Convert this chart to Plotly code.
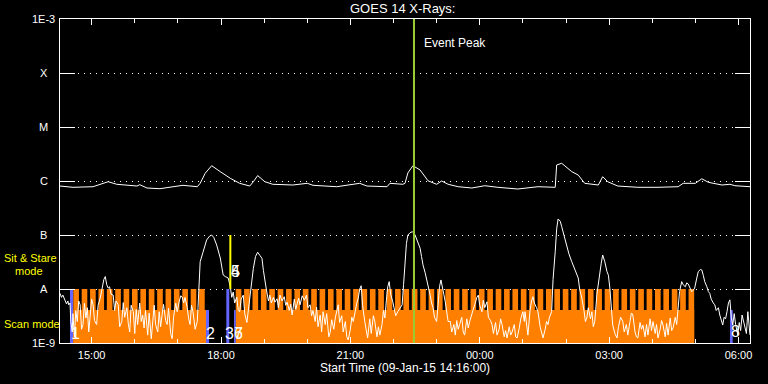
import datetime as dt
import math
import plotly.graph_objects as go

# ---------------- data ----------------
X_RANGE = ["2015-01-09 14:16:00", "2015-01-10 06:16:00"]

# GOES 1-8 A (long channel)
LONG_TIMES = ["14:16", "14:34", "15:02", "15:16", "15:23", "15:35", "16:03", "16:07", "16:17", "16:35",
              "16:59", "17:07", "17:27", "17:31", "17:38", "17:47", "17:59", "18:13", "18:26", "18:40",
              "18:45", "18:51", "19:01", "19:12", "19:40", "20:00", "20:08", "20:41", "21:13", "21:23",
              "21:51", "21:55", "22:13", "22:16", "22:20", "22:27", "22:37", "22:48", "23:00", "23:07",
              "23:16", "23:30", "23:49", "00:07", "00:25", "00:53", "01:21", "01:45", "01:47", "01:54",
              "02:08", "02:17", "02:26", "02:45", "02:51", "02:58", "03:12", "03:40", "04:08", "04:36",
              "04:43", "05:00", "05:09", "05:18", "05:37", "05:48", "05:55", "06:16"]
LONG_FLUX = [8.07e-7, 7.64e-7, 7.84e-7, 9.06e-7, 9.7e-7, 8.69e-7, 8.07e-7, 8.53e-7, 7.42e-7, 7.2e-7,
             7.84e-7, 8.32e-7, 7.84e-7, 9.06e-7, 1.39e-6, 1.92e-6, 1.49e-6, 1.12e-6, 9.06e-7, 8.07e-7,
             9.7e-7, 1.26e-6, 9.7e-7, 8.69e-7, 8.43e-7, 9.06e-7, 8.32e-7, 7.84e-7, 9.06e-7, 8.07e-7,
             7.84e-7, 9.06e-7, 8.69e-7, 9.06e-7, 1.41e-6, 1.92e-6, 1.6e-6, 1.01e-6, 8.69e-7, 1.0e-6,
             8.69e-7, 7.84e-7, 7.42e-7, 8.18e-7, 7.64e-7, 7.11e-7, 7.84e-7, 7.64e-7, 1.98e-6, 2.13e-6,
             1.49e-6, 1.29e-6, 9.06e-7, 8.43e-7, 1.2e-6, 9.7e-7, 8.07e-7, 7.64e-7, 7.64e-7, 7.84e-7,
             9.06e-7, 9.06e-7, 1.1e-6, 9.46e-7, 8.43e-7, 8.69e-7, 8.18e-7, 7.84e-7]

# GOES 0.5-4 A (short channel)
SHORT_TIMES = [
    "14:16", "14:18", "14:20", "14:23", "14:25", "14:27", "14:28", "14:30", "14:31", "14:33",
    "14:34", "14:36", "14:38", "14:40", "14:42", "14:44", "14:46", "14:48", "14:50", "14:52",
    "14:54", "14:56", "14:58", "15:00", "15:02", "15:04", "15:07", "15:09", "15:12", "15:15",
    "15:17", "15:19", "15:21", "15:23", "15:25", "15:27", "15:30", "15:32", "15:34", "15:37",
    "15:39", "15:42", "15:44", "15:46", "15:49", "15:51", "15:53", "15:55", "15:58", "16:00",
    "16:02", "16:04", "16:07", "16:09", "16:11", "16:13", "16:15", "16:18", "16:20", "16:23",
    "16:25", "16:27", "16:29", "16:32", "16:34", "16:36", "16:38", "16:40", "16:43", "16:45",
    "16:47", "16:50", "16:52", "16:54", "16:57", "16:59", "17:02", "17:04", "17:06", "17:08",
    "17:10", "17:13", "17:15", "17:17", "17:19", "17:21", "17:24", "17:27", "17:28", "17:31",
    "17:35", "17:40", "17:44", "17:47", "17:50", "17:54", "17:59", "18:03", "18:06", "18:10",
    "18:13", "18:15", "18:17", "18:19", "18:22", "18:24", "18:26", "18:28", "18:31", "18:33",
    "18:36", "18:38", "18:40", "18:42", "18:45", "18:48", "18:51", "18:54", "18:57", "18:59",
    "19:01", "19:03", "19:06", "19:08", "19:10", "19:13", "19:15", "19:18", "19:20", "19:22",
    "19:25", "19:28", "19:30", "19:32", "19:35", "19:37", "19:39", "19:42", "19:44", "19:46",
    "19:48", "19:50", "19:53", "19:56", "19:59", "20:01", "20:04", "20:06", "20:08", "20:11",
    "20:13", "20:15", "20:18", "20:20", "20:22", "20:25", "20:27", "20:30", "20:32", "20:34",
    "20:37", "20:39", "20:41", "20:43", "20:45", "20:48", "20:50", "20:53", "20:55", "20:57",
    "21:00", "21:02", "21:04", "21:07", "21:09", "21:11", "21:13", "21:15", "21:17", "21:20",
    "21:22", "21:24", "21:27", "21:29", "21:32", "21:34", "21:37", "21:39", "21:41", "21:44",
    "21:46", "21:48", "21:50", "21:52", "21:54", "21:56", "21:59", "22:01", "22:03", "22:06",
    "22:09", "22:12", "22:14", "22:16", "22:18", "22:20", "22:23", "22:26", "22:28", "22:30",
    "22:33", "22:37", "22:39", "22:41", "22:44", "22:47", "22:49", "22:51", "22:53", "22:55",
    "22:57", "23:00", "23:02", "23:04", "23:06", "23:08", "23:10", "23:12", "23:14", "23:16",
    "23:19", "23:21", "23:24", "23:26", "23:28", "23:30", "23:32", "23:35", "23:37", "23:39",
    "23:42", "23:44", "23:46", "23:49", "23:51", "23:53", "23:56", "23:58", "00:00", "00:03",
    "00:05", "00:07", "00:10", "00:12", "00:15", "00:17", "00:19", "00:22", "00:24", "00:27",
    "00:29", "00:31", "00:34", "00:36", "00:38", "00:41", "00:43", "00:45", "00:48", "00:50",
    "00:52", "00:55", "00:57", "01:00", "01:02", "01:03", "01:05", "01:07", "01:10", "01:12",
    "01:14", "01:16", "01:19", "01:21", "01:24", "01:26", "01:28", "01:31", "01:33", "01:35",
    "01:37", "01:40", "01:42", "01:45", "01:47", "01:49", "01:52", "01:54", "01:58", "02:01",
    "02:04", "02:08", "02:12", "02:17", "02:19", "02:22", "02:25", "02:27", "02:29", "02:31",
    "02:34", "02:36", "02:38", "02:40", "02:43", "02:45", "02:47", "02:49", "02:51", "02:54",
    "02:57", "02:59", "03:01", "03:03", "03:05", "03:08", "03:11", "03:13", "03:16", "03:19",
    "03:21", "03:24", "03:26", "03:29", "03:31", "03:33", "03:36", "03:38", "03:40", "03:43",
    "03:45", "03:47", "03:50", "03:52", "03:54", "03:57", "03:59", "04:01", "04:04", "04:06",
    "04:08", "04:11", "04:13", "04:15", "04:18", "04:20", "04:22", "04:25", "04:27", "04:29",
    "04:32", "04:34", "04:36", "04:38", "04:41", "04:43", "04:46", "04:48", "04:50", "04:53",
    "04:55", "04:57", "04:59", "05:02", "05:04", "05:07", "05:09", "05:11", "05:13", "05:16",
    "05:18", "05:20", "05:22", "05:25", "05:27", "05:29", "05:32", "05:34", "05:36", "05:38",
    "05:40", "05:42", "05:44", "05:46", "05:48", "05:50", "05:52", "05:54", "05:56", "05:59",
    "06:01", "06:03", "06:05", "06:07", "06:09", "06:11", "06:13", "06:15", "06:16"]
SHORT_FLUX = [
    8.3e-9, 7.0e-9, 7.7e-9, 6.3e-9, 5.3e-9, 6.0e-9, 5.1e-9, 5.5e-9, 2.5e-9, 1.6e-9,
    3.5e-9, 1.3e-9, 4.0e-9, 2.5e-9, 6.0e-9, 5.1e-9, 1.8e-9, 2.2e-9, 5.5e-9, 2.9e-9,
    4.5e-9, 1.6e-9, 3.3e-9, 6.5e-9, 5.1e-9, 2.6e-9, 2.2e-9, 5.0e-9, 6.8e-9, 1.1e-8,
    1.5e-8, 1.7e-8, 1.2e-8, 1.04e-8, 1.1e-8, 8.0e-9, 7.7e-9, 4.0e-9, 6.0e-9, 5.1e-9,
    2.0e-9, 2.5e-9, 5.6e-9, 3.0e-9, 4.5e-9, 2.3e-9, 1.6e-9, 5.0e-9, 3.8e-9, 1.5e-9,
    4.2e-9, 2.2e-9, 5.5e-9, 2.5e-9, 3.3e-9, 1.9e-9, 4.0e-9, 1.4e-9, 3.6e-9, 1.2e-9,
    2.9e-9, 5.0e-9, 2.2e-9, 1.6e-9, 3.8e-9, 2.0e-9, 3.3e-9, 5.2e-9, 2.6e-9, 2.2e-9,
    4.4e-9, 1.5e-9, 1.2e-9, 3.0e-9, 5.5e-9, 3.8e-9, 6.0e-9, 7.5e-9, 7.1e-9, 5.5e-9,
    7.0e-9, 4.5e-9, 2.8e-9, 2.2e-9, 5.0e-9, 3.8e-9, 1.8e-9, 2.5e-9, 4.5e-9, 3.2e-8,
    4.8e-8, 8.1e-8, 9.5e-8, 1.0e-7, 9.0e-8, 6.5e-8, 3.75e-8, 1.82e-8, 1.7e-8, 1.6e-8,
    1.09e-8, 7.0e-9, 8.8e-9, 5.5e-9, 7.1e-9, 4.0e-9, 3.8e-9, 6.5e-9, 7.7e-9, 3.5e-9,
    2.4e-9, 4.0e-9, 5.7e-9, 1.2e-8, 2.4e-8, 4.0e-8, 4.8e-8, 4.2e-8, 3.7e-8, 2.2e-8,
    1.3e-8, 1.0e-8, 6.0e-9, 7.7e-9, 5.5e-9, 7.0e-9, 5.7e-9, 6.6e-9, 4.5e-9, 7.7e-9,
    6.0e-9, 7.2e-9, 5.0e-9, 5.7e-9, 4.0e-9, 5.2e-9, 3.3e-9, 6.5e-9, 4.2e-9, 5.7e-9,
    6.8e-9, 5.1e-9, 7.5e-9, 6.2e-9, 7.7e-9, 4.5e-9, 5.1e-9, 3.2e-9, 4.0e-9, 2.5e-9,
    4.6e-9, 2.0e-9, 3.3e-9, 1.6e-9, 3.8e-9, 2.2e-9, 3.5e-9, 1.3e-9, 1.6e-9, 2.7e-9,
    1.8e-9, 2.9e-9, 4.0e-9, 5.1e-9, 2.4e-9, 3.2e-9, 1.6e-9, 2.5e-9, 1.3e-9, 1.14e-9,
    1.8e-9, 3.0e-9, 2.5e-9, 4.5e-9, 5.5e-9, 6.8e-9, 1.0e-8, 1.15e-8, 5.0e-9, 2.5e-9,
    1.7e-9, 1.24e-9, 2.8e-9, 1.5e-9, 3.2e-9, 2.5e-9, 1.3e-9, 2.0e-9, 1.4e-9, 2.2e-9,
    4.0e-9, 2.9e-9, 6.0e-9, 1.1e-8, 1.37e-8, 8.0e-9, 5.8e-9, 4.5e-9, 3.2e-9, 3.8e-9,
    4.5e-9, 5.1e-9, 1.2e-8, 3.75e-8, 7.0e-8, 1.0e-7, 1.1e-7, 1.15e-7, 1.1e-7, 1.0e-7,
    8.0e-8, 5.7e-8, 4.0e-8, 2.8e-8, 2.0e-8, 1.37e-8, 1.0e-8, 7.7e-9, 5.5e-9, 4.5e-9,
    3.0e-9, 2.5e-9, 5.0e-9, 1.1e-8, 1.47e-8, 1.0e-8, 8.0e-9, 5.8e-9, 4.0e-9, 2.5e-9,
    2.5e-9, 1.6e-9, 2.2e-9, 1.4e-9, 2.6e-9, 1.8e-9, 2.2e-9, 3.0e-9, 1.6e-9, 1.4e-9,
    2.8e-9, 1.9e-9, 2.5e-9, 3.6e-9, 4.2e-9, 5.1e-9, 7.0e-9, 7.7e-9, 5.0e-9, 3.8e-9,
    6.2e-9, 4.5e-9, 5.8e-9, 3.0e-9, 2.6e-9, 2.2e-9, 1.5e-9, 2.4e-9, 1.4e-9, 1.8e-9,
    2.8e-9, 2.2e-9, 1.3e-9, 1.7e-9, 1.24e-9, 2.0e-9, 1.4e-9, 1.6e-9, 2.2e-9, 1.3e-9,
    1.24e-9, 1.9e-9, 2.8e-9, 3.8e-9, 2.5e-9, 3.8e-9, 2.0e-9, 1.4e-9, 4.0e-9, 6.0e-9,
    7.2e-9, 5.5e-9, 4.5e-9, 3.8e-9, 2.0e-9, 1.5e-9, 1.24e-9, 1.8e-9, 2.5e-9, 2.2e-9,
    3.0e-9, 3.8e-9, 1.5e-8, 4.9e-8, 1.3e-7, 1.98e-7, 1.8e-7, 1.43e-7, 9.0e-8, 6.5e-8,
    4.5e-8, 3.2e-8, 2.3e-8, 1.6e-8, 1.0e-8, 6.8e-9, 4.0e-9, 2.5e-9, 2.9e-9, 4.5e-9,
    2.8e-9, 3.8e-9, 2.0e-9, 2.5e-9, 8.0e-9, 1.3e-8, 1.82e-8, 3.0e-8, 4.26e-8, 3.2e-8,
    2.1e-8, 1.8e-8, 1.04e-8, 4.0e-9, 2.15e-9, 1.5e-9, 1.24e-9, 2.0e-9, 3.0e-9, 2.5e-9,
    1.6e-9, 2.2e-9, 1.4e-9, 2.5e-9, 3.6e-9, 3.3e-9, 1.6e-9, 1.3e-9, 1.24e-9, 2.4e-9,
    1.8e-9, 2.15e-9, 1.3e-9, 2.2e-9, 1.4e-9, 2.8e-9, 1.7e-9, 2.5e-9, 1.5e-9, 2.2e-9,
    1.24e-9, 1.8e-9, 2.6e-9, 2.15e-9, 1.3e-9, 2.3e-9, 1.4e-9, 2.9e-9, 1.7e-9, 1.9e-9,
    3.0e-9, 2.2e-9, 4.5e-9, 9.0e-9, 1.37e-8, 1.2e-8, 1.1e-8, 1.3e-8, 1.24e-8, 1.0e-8,
    8.9e-9, 9.5e-9, 1.04e-8, 1.6e-8, 2.1e-8, 2.3e-8, 2.25e-8, 1.8e-8, 1.37e-8, 1.1e-8,
    9.0e-9, 8.3e-9, 6.5e-9, 5.5e-9, 5.1e-9, 4.0e-9, 4.5e-9, 3.3e-9, 2.6e-9, 2.15e-9,
    3.0e-9, 2.8e-9, 3.8e-9, 5.5e-9, 6.3e-9, 3.0e-9, 2.15e-9, 3.5e-9, 2.2e-9, 1.4e-9,
    2.4e-9, 1.7e-9, 3.3e-9, 2.6e-9, 1.9e-9, 1.5e-9, 3.8e-9, 2.2e-9, 1.41e-9]

# Observation windows (scan mode) and individual rasters
OBS_START = ["14:34:30", "18:20:30"]
OBS_END = ["17:40:00", "04:58:20"]
OBS_LEVEL = 4.1e-9
RASTER_START = ["14:34:30", "14:46:10", "14:57:50", "15:09:30", "15:21:10", "15:32:50", "15:44:30",
                "15:56:10", "16:07:50", "16:19:30", "16:31:10", "16:42:50", "16:54:30", "17:06:10",
                "17:17:50", "17:29:30",
                "18:20:30", "18:32:10", "18:43:50", "18:55:30", "19:07:10", "19:18:50", "19:30:30",
                "19:42:10", "19:53:50", "20:05:30", "20:17:10", "20:28:50", "20:40:30", "20:52:10",
                "21:03:50", "21:15:30", "21:27:10", "21:38:50", "21:50:30", "22:02:10", "22:13:50",
                "22:25:30", "22:37:10", "22:48:50", "23:00:30", "23:12:10", "23:23:50", "23:35:30",
                "23:47:10", "23:58:50", "00:10:30", "00:22:10", "00:33:50", "00:45:30", "00:57:10",
                "01:08:50", "01:20:30", "01:32:10", "01:43:50", "01:55:30", "02:07:10", "02:18:50",
                "02:30:30", "02:42:10", "02:53:50", "03:05:30", "03:17:10", "03:28:50", "03:40:30",
                "03:52:10", "04:03:50", "04:15:30", "04:27:10", "04:38:50", "04:50:30"]
RASTER_DURATION_S = 470
RASTER_LEVEL = 1e-8

# other observations (blue)
OTHER_START = ["14:29:54", "17:39:06", "18:07:24", "18:18:06", "05:48:12"]
OTHER_END = ["14:34:06", "17:43:18", "18:11:30", "18:20:30", "05:51:54"]
OTHER_TOP = [1e-8, 4.1e-9, 1e-8, 4.1e-9, 4.1e-9]

SIT_STARE_TIME = "18:13:00"
SIT_STARE_RANGE = [1e-8, 1e-7]
EVENT_PEAK_TIME = "22:28:30"

OBS_LABELS = ["1", "2", "3", "4", "5", "6", "7", "8"]
OBS_LABEL_TIMES = ["14:37:00", "17:46:00", "18:12:30", "18:19:30", "18:19:30", "18:25:00", "18:25:00", "05:56:30"]
OBS_LABEL_FLUX = [1.5e-9, 1.5e-9, 1.5e-9, 2.07e-8, 2.07e-8, 1.5e-9, 1.5e-9, 1.6e-9]

CLASS_FLUX = [1e-9, 1e-8, 1e-7, 1e-6, 1e-5, 1e-4, 1e-3]
CLASS_LABELS = ["1E-9", "A", "B", "C", "M", "X", "1E-3"]

TITLE = "GOES 14 X-Rays:"
XTITLE = "Start Time (09-Jan-15 14:16:00)"

# ---------------- helpers ----------------
def ts(hm):
    h = int(hm.split(":")[0])
    day = "2015-01-09" if h >= 12 else "2015-01-10"
    return day + " " + hm

def to_dt(hm):
    s = ts(hm)
    fmt = "%Y-%m-%d %H:%M:%S" if s.count(":") == 2 else "%Y-%m-%d %H:%M"
    return dt.datetime.strptime(s, fmt)

def rects(starts, ends, lo, tops):
    xs, ys = [], []
    for s, e, t in zip(starts, ends, tops):
        xs += [s, s, e, e, s, None]
        ys += [lo, t, t, lo, lo, None]
    return xs, ys

ORANGE = "#ff8000"
BLUE = "#6464ff"
YELLOW = "#ffff00"
GREEN = "#9acd32"
FONT = "Liberation Sans"
lo = CLASS_FLUX[0]

fig = go.Figure()

xs, ys = rects([to_dt(t) for t in OBS_START], [to_dt(t) for t in OBS_END], lo, [OBS_LEVEL] * len(OBS_START))
fig.add_trace(go.Scatter(x=xs, y=ys, mode="lines", fill="toself", fillcolor=ORANGE,
                         line=dict(width=0, color=ORANGE), hoverinfo="skip"))
r_s = [to_dt(t) for t in RASTER_START]
r_e = [t + dt.timedelta(seconds=RASTER_DURATION_S) for t in r_s]
xs, ys = rects(r_s, r_e, lo, [RASTER_LEVEL] * len(r_s))
fig.add_trace(go.Scatter(x=xs, y=ys, mode="lines", fill="toself", fillcolor=ORANGE,
                         line=dict(width=0, color=ORANGE), hoverinfo="skip"))
xs, ys = rects([to_dt(t) for t in OTHER_START], [to_dt(t) for t in OTHER_END], lo, OTHER_TOP)
fig.add_trace(go.Scatter(x=xs, y=ys, mode="lines", fill="toself", fillcolor=BLUE,
                         line=dict(width=0, color=BLUE), hoverinfo="skip"))

fig.add_trace(go.Scatter(x=[ts(t) for t in LONG_TIMES], y=LONG_FLUX, mode="lines",
                         line=dict(color="white", width=1)))
fig.add_trace(go.Scatter(x=[ts(t) for t in SHORT_TIMES], y=SHORT_FLUX, mode="lines",
                         line=dict(color="white", width=1)))

fig.add_trace(go.Scatter(x=[ts(SIT_STARE_TIME)] * 2, y=SIT_STARE_RANGE, mode="lines",
                         line=dict(color=YELLOW, width=2)))
fig.add_trace(go.Scatter(x=[ts(EVENT_PEAK_TIME)] * 2, y=[CLASS_FLUX[0], CLASS_FLUX[-1]], mode="lines",
                         line=dict(color=GREEN, width=2)))

ann = []
for v, lab in zip(CLASS_FLUX, CLASS_LABELS):
    ann.append(dict(xref="paper", yref="y", x=-0.0232, y=math.log10(v), text=lab, showarrow=False,
                    xanchor="center", yanchor="middle", font=dict(family=FONT, size=11, color="white")))
for t, v, lab in zip(OBS_LABEL_TIMES, OBS_LABEL_FLUX, OBS_LABELS):
    ann.append(dict(xref="x", yref="y", x=ts(t), y=math.log10(v), text=lab, showarrow=False,
                    xanchor="center", yanchor="middle", font=dict(family=FONT, size=16, color="white")))
ann.append(dict(xref="x", yref="paper", x=ts(EVENT_PEAK_TIME), y=0.926, text="Event Peak", showarrow=False,
                xanchor="left", yanchor="middle", xshift=8, font=dict(family=FONT, size=12, color="white")))
ann.append(dict(xref="paper", yref="paper", x=0.4957, y=1.031, text=TITLE, showarrow=False,
                xanchor="center", yanchor="middle", font=dict(family=FONT, size=13, color="white")))
ann.append(dict(xref="paper", yref="paper", x=0.4993, y=-0.0772, text=XTITLE, showarrow=False,
                xanchor="center", yanchor="middle", font=dict(family=FONT, size=12, color="white")))
ann.append(dict(xref="paper", yref="paper", x=-0.0841, y=0.261, text="Sit & Stare", showarrow=False,
                xanchor="left", yanchor="middle", font=dict(family=FONT, size=11, color=YELLOW)))
ann.append(dict(xref="paper", yref="paper", x=-0.0686, y=0.222, text="mode", showarrow=False,
                xanchor="left", yanchor="middle", font=dict(family=FONT, size=11, color=YELLOW)))
ann.append(dict(xref="paper", yref="paper", x=-0.0841, y=0.0586, text="Scan mode", showarrow=False,
                xanchor="left", yanchor="middle", font=dict(family=FONT, size=11, color=YELLOW)))

fig.update_layout(
    width=768, height=384,
    margin=dict(l=60, r=18, t=19, b=41),
    paper_bgcolor="black", plot_bgcolor="black",
    showlegend=False,
    annotations=ann,
    xaxis=dict(type="date", range=X_RANGE, showline=True, linecolor="white", linewidth=1,
               mirror="ticks", ticks="inside", ticklen=6, tickcolor="white", tickwidth=1,
               tick0="2015-01-09 15:00", dtick=3 * 3600000, tickformat="%H:%M",
               tickfont=dict(family=FONT, size=11, color="white"), ticklabelstandoff=2,
               showgrid=False, zeroline=False,
               minor=dict(dtick=3600000, tick0="2015-01-09 15:00", ticks="inside", ticklen=4,
                          tickcolor="white", tickwidth=1, showgrid=False)),
    yaxis=dict(type="log", range=[-9, -3], tickvals=CLASS_FLUX, showticklabels=False,
               showline=True, linecolor="white", linewidth=1, mirror="ticks",
               ticks="inside", ticklen=15, tickcolor="white", tickwidth=1,
               showgrid=True, gridcolor="white", gridwidth=1, griddash="1px,5px", zeroline=False),
)

fig.write_html("out.html", config={"displayModeBar": False},
               post_script="document.body.style.margin='0';document.body.style.background='black';"
                           "document.body.style.overflow='hidden';")
